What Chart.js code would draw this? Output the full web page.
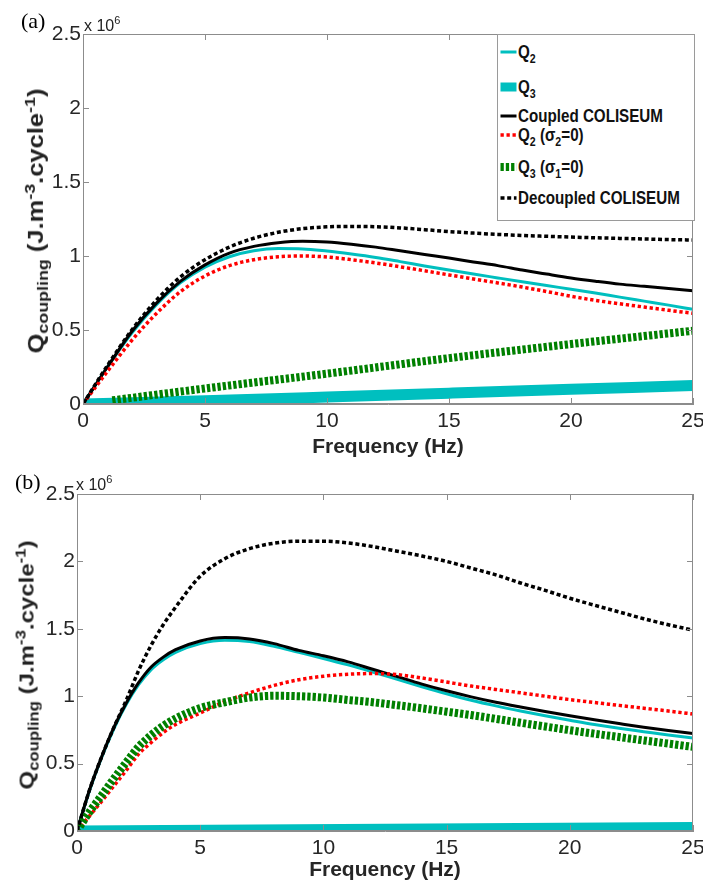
<!DOCTYPE html>
<html>
<head>
<meta charset="utf-8">
<script src="https://cdn.jsdelivr.net/npm/chart.js@4.4.0/dist/chart.umd.min.js"></script>
<style>
  html, body { margin:0; padding:0; background:#fff; width:703px; height:883px; overflow:hidden; }
  body { position:relative; font-family:"Liberation Sans", Arial, sans-serif; color:#222; }
  .panel { position:absolute; left:0; width:703px; }
  #wa { top:0; height:465px; }
  #wb { top:465px; height:418px; }
  .tag { position:absolute; font-family:"Liberation Serif","Times New Roman",serif; font-size:22px; color:#000; line-height:1; }
  .expo { position:absolute; font-size:16px; line-height:1; color:#222; white-space:nowrap; }
  .expo sup { font-size:11px; vertical-align:7px; line-height:0; }
  .ytitle { position:absolute; font-weight:bold; white-space:nowrap; line-height:1; color:#222; transform-origin:center center; }
  .ytitle sub { font-size:70%; vertical-align:-0.3em; line-height:0; }
  .ytitle sup { font-size:70%; vertical-align:0.55em; line-height:0; }
  #legend { position:absolute; left:497px; top:34px; width:196px; height:185px; border:1px solid #9a9a9a; background:#fff; z-index:5; }
  .lrow { position:absolute; left:2px; height:24px; display:flex; align-items:center; white-space:nowrap; }
  .lrow svg { flex:0 0 auto; }
  .ltext { font-weight:bold; font-size:18.5px; line-height:24px; color:#111; transform:scaleX(0.82); transform-origin:left center; margin-left:1px; }
  .ltext sub { font-size:70%; vertical-align:-0.35em; line-height:0; }
</style>
</head>
<body>
<div id="wa" class="panel"><canvas id="ca"></canvas></div>
<div id="wb" class="panel"><canvas id="cb"></canvas></div>

<div class="tag" style="left:21px; top:10px;">(a)</div>
<div class="tag" style="left:15px; top:471px;">(b)</div>
<div class="expo" style="left:84px; top:18px;">x 10<sup>6</sup></div>
<div class="expo" style="left:76px; top:477px;">x 10<sup>6</sup></div>
<div id="yta" class="ytitle"></div>
<div id="ytb" class="ytitle"></div>
<div id="legend"></div>

<script>
// ---------------- DATA ----------------
// Panel (a)
const freqA = [0,1,2,3,4,5,6,7,8,9,10,11,12,13,14,15,16,17,18,19,20,21,22,23,24,25];
const aQ2        = [0,0.25,0.48,0.67,0.82,0.925,0.995,1.035,1.05,1.048,1.033,1.013,0.99,0.962,0.933,0.905,0.878,0.852,0.826,0.8,0.776,0.75,0.722,0.695,0.668,0.64];
const aCoupled   = [0,0.25,0.49,0.68,0.83,0.94,1.02,1.065,1.09,1.10,1.095,1.08,1.06,1.035,1.01,0.986,0.96,0.935,0.905,0.878,0.852,0.83,0.81,0.795,0.78,0.766];
const aQ2s0      = [0,0.22,0.43,0.61,0.76,0.865,0.935,0.975,0.995,1.0,0.993,0.975,0.953,0.927,0.9,0.872,0.845,0.818,0.79,0.76,0.728,0.70,0.677,0.655,0.633,0.613];
const aDecoupled = [0,0.26,0.50,0.70,0.86,0.975,1.06,1.12,1.16,1.185,1.197,1.2,1.198,1.19,1.178,1.165,1.155,1.146,1.139,1.133,1.128,1.123,1.119,1.115,1.111,1.108];
const freqAQ3  = [0,5,10,15,20,25];
const aQ3      = [0,0.022,0.047,0.073,0.099,0.125];
const freqAQ3s = [1.2,5,10,15,20,25];
const aQ3s1    = [0.025,0.105,0.205,0.31,0.405,0.495];

// Panel (b)
const freqB = [0,0.5,1,1.5,2,2.5,3,3.5,4,5,6,7,8,9,10,11,12,13,14,15,16,17,18,19,20,21,22,23,24,25];
const bQ2        = [0,0.295,0.545,0.76,0.94,1.085,1.195,1.27,1.325,1.39,1.415,1.405,1.37,1.325,1.28,1.232,1.18,1.125,1.07,1.018,0.97,0.928,0.89,0.855,0.822,0.79,0.762,0.737,0.712,0.69];
const bCoupled   = [0,0.30,0.55,0.77,0.95,1.10,1.215,1.29,1.345,1.41,1.435,1.425,1.39,1.34,1.30,1.255,1.20,1.145,1.09,1.04,0.995,0.955,0.92,0.887,0.855,0.825,0.797,0.77,0.746,0.724];
const bQ2s0      = [0,0.11,0.22,0.335,0.45,0.57,0.655,0.73,0.79,0.875,0.96,1.025,1.08,1.122,1.148,1.163,1.168,1.16,1.135,1.105,1.075,1.05,1.025,1.0,0.975,0.953,0.932,0.911,0.89,0.868];
const bQ3s1      = [0,0.14,0.265,0.39,0.51,0.625,0.71,0.78,0.835,0.912,0.955,0.99,1.003,1.0,0.99,0.972,0.955,0.933,0.91,0.885,0.86,0.832,0.803,0.775,0.748,0.722,0.697,0.672,0.648,0.624];
const bDecoupled = [0,0.30,0.55,0.77,0.97,1.19,1.375,1.53,1.66,1.89,2.02,2.095,2.135,2.15,2.15,2.137,2.11,2.075,2.04,2.0,1.95,1.9,1.84,1.785,1.727,1.675,1.625,1.575,1.53,1.49];
const freqBQ3 = [0,12.5,25];
const bQ3     = [0,0.013,0.026];

// Labels and ticks
const seriesLabels = ['Q<sub>2</sub>','Q<sub>3</sub>','Coupled COLISEUM','Q<sub>2</sub> (σ<sub>2</sub>=0)','Q<sub>3</sub> (σ<sub>1</sub>=0)','Decoupled COLISEUM'];
const xTickValues = [0,5,10,15,20,25];
const xTickLabels = ['0','5','10','15','20','25'];
const yTickValues = [0,0.5,1,1.5,2,2.5];
const yTickLabels = ['0','0.5','1','1.5','2','2.5'];
const xTitle = 'Frequency (Hz)';
const yTitleHTML = 'Q<sub>coupling</sub> (J.m<sup>-3</sup>.cycle<sup>-1</sup>)';

// ---------------- STYLES ----------------
const seriesStyles = [
  {color:'#00bfbf', width:3,   dash:[]},
  {color:'#00bfbf', width:11,  dash:[]},
  {color:'#000000', width:3,   dash:[]},
  {color:'#ff0000', width:3.5, dash:[3.3,2.7]},
  {color:'#008000', width:8,   dash:[3.3,2]},
  {color:'#000000', width:3.5, dash:[4,2.7]}
];
const axisGray = '#8c8c8c';
const textCol = '#262626';
const FONT = "'Liberation Sans', Arial, Helvetica, sans-serif";

function pts(xs, ys){ return xs.map((x,i)=>({x:x, y:ys[i]})); }
function plain(html){ return html.replace(/<[^>]+>/g,''); }

function makeDatasets(series){
  const n = series.length;
  return series.map((s,i)=>({
    label: plain(seriesLabels[i]),
    data: pts(s.x, s.y),
    borderColor: seriesStyles[i].color,
    backgroundColor: seriesStyles[i].color,
    borderWidth: seriesStyles[i].width,
    borderDash: seriesStyles[i].dash,
    borderCapStyle: 'butt',
    borderJoinStyle: 'round',
    pointRadius: 0,
    fill: false,
    cubicInterpolationMode: 'monotone',
    clip: 0,
    order: n-1-i
  }));
}

const framePlugin = {
  id:'frame',
  afterDatasetsDraw(chart){
    const {ctx, chartArea:a, scales} = chart;
    const xs = scales.x, ys = scales.y;
    ctx.save();
    ctx.strokeStyle = axisGray;
    ctx.lineWidth = 1;
    ctx.strokeRect(Math.round(a.left)+0.5, Math.round(a.top)+0.5, Math.round(a.right-a.left)-1, Math.round(a.bottom-a.top)-1);
    const tl = 6;
    ctx.beginPath();
    xTickValues.forEach(v=>{
      const px = Math.round(xs.getPixelForValue(v))+0.5;
      ctx.moveTo(px, a.bottom); ctx.lineTo(px, a.bottom-tl);
      ctx.moveTo(px, a.top); ctx.lineTo(px, a.top+tl);
    });
    yTickValues.forEach(v=>{
      const py = Math.round(ys.getPixelForValue(v))+0.5;
      ctx.moveTo(a.left, py); ctx.lineTo(a.left+tl, py);
      ctx.moveTo(a.right, py); ctx.lineTo(a.right-tl, py);
    });
    ctx.stroke();
    ctx.restore();
  }
};

function makeChart(canvasId, series, cfg){
  return new Chart(document.getElementById(canvasId), {
    type:'line',
    data:{ datasets: makeDatasets(series) },
    options:{
      responsive:true,
      maintainAspectRatio:false,
      animation:false,
      events:[],
      layout:{ padding:{ left:0, right:10, top:cfg.padTop, bottom:0 } },
      plugins:{ legend:{display:false}, tooltip:{enabled:false} },
      scales:{
        x:{
          type:'linear', min:0, max:25,
          afterBuildTicks: s => { s.ticks = xTickValues.map(v=>({value:v})); },
          afterFit: s => { s.height = cfg.xAxisH; s.paddingLeft = 0; s.paddingRight = 0; },
          ticks:{ callback: v => xTickLabels[xTickValues.indexOf(v)], padding:5, maxRotation:0, autoSkip:false, color:textCol, font:{family:FONT, size:21} },
          grid:{ display:true, drawOnChartArea:false, drawTicks:false },
          border:{ display:true, color:axisGray },
          title:{ display:true, text:xTitle, color:textCol, font:{family:FONT, size:21, weight:'bold'}, padding:{top:0, bottom:cfg.titlePadB} }
        },
        y:{
          type:'linear', min:0, max:2.5,
          afterBuildTicks: s => { s.ticks = yTickValues.map(v=>({value:v})); },
          afterFit: s => { s.width = cfg.yAxisW; s.paddingTop = 0; s.paddingBottom = 0; },
          ticks:{ callback: v => yTickLabels[yTickValues.indexOf(v)], padding:2, autoSkip:false, color:textCol, font:{family:FONT, size:21} },
          grid:{ display:true, drawOnChartArea:false, drawTicks:false },
          border:{ display:true, color:axisGray }
        }
      }
    },
    plugins:[framePlugin]
  });
}

const seriesA = [
  {x:freqA, y:aQ2},
  {x:freqAQ3, y:aQ3},
  {x:freqA, y:aCoupled},
  {x:freqA, y:aQ2s0},
  {x:freqAQ3s, y:aQ3s1},
  {x:freqA, y:aDecoupled}
];
const seriesB = [
  {x:freqB, y:bQ2},
  {x:freqBQ3, y:bQ3},
  {x:freqB, y:bCoupled},
  {x:freqB, y:bQ2s0},
  {x:freqB, y:bQ3s1},
  {x:freqB, y:bDecoupled}
];

makeChart('ca', seriesA, {padTop:34, xAxisH:61, yAxisW:83, titlePadB:5});
makeChart('cb', seriesB, {padTop:29, xAxisH:52, yAxisW:77, titlePadB:0});

// Y titles
function placeYTitle(id, cx, cy, size){
  const el = document.getElementById(id);
  el.innerHTML = yTitleHTML;
  el.style.fontSize = size + 'px';
  el.style.left = cx + 'px';
  el.style.top = cy + 'px';
  el.style.transform = 'translate(-50%,-50%) rotate(-90deg) scaleY(0.85)';
}
placeYTitle('yta', 36, 221, 25.5);
placeYTitle('ytb', 27, 665, 24);

// Legend (panel a)
const legendRowCenters = [52, 87, 116, 135, 167, 198];
const leg = document.getElementById('legend');
seriesLabels.forEach((lab,i)=>{
  const st = seriesStyles[i];
  const row = document.createElement('div');
  row.className = 'lrow';
  row.style.top = (legendRowCenters[i] - 35 - 12) + 'px';
  const dash = st.dash.length ? ` stroke-dasharray="${st.dash.join(',')}"` : '';
  row.innerHTML = `<svg width="17" height="14" viewBox="0 0 17 14"><line x1="0.5" y1="7" x2="16.5" y2="7" stroke="${st.color}" stroke-width="${Math.min(st.width,9)}"${dash}/></svg><span class="ltext">${lab}</span>`;
  leg.appendChild(row);
});
</script>
</body>
</html>
